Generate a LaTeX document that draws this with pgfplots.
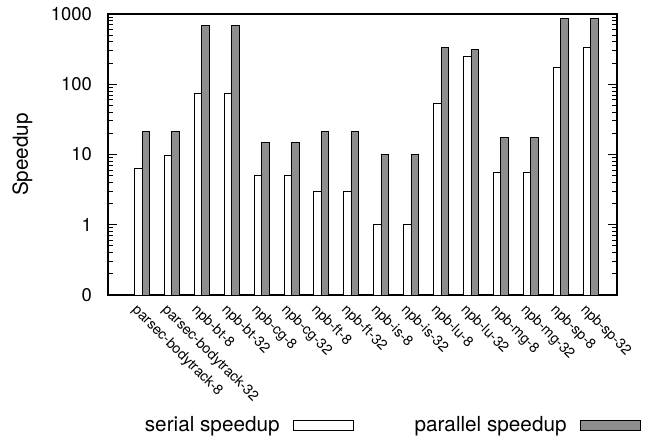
\documentclass[border=0pt]{standalone}
\usepackage{pgfplots}
\pgfplotsset{compat=1.18}
\usepackage{fontspec}
\setmainfont{TeX Gyre Heros}
\definecolor{bargray}{RGB}{142,142,142}
\begin{document}
\begin{tikzpicture}
\useasboundingbox (0,0) rectangle (648bp,438bp);
\begin{axis}[
  at={(108bp,143bp)}, anchor=south west,
  scale only axis, width=509bp, height=281bp,
  ymode=log, log origin=infty,
  ymin=0.1, ymax=1000,
  xmin=-1.137, xmax=15.88,
  ybar=0pt, bar width=7.5bp,
  xtick={0,...,15},
  xticklabels={parsec-bodytrack-8,parsec-bodytrack-32,npb-bt-8,npb-bt-32,npb-cg-8,npb-cg-32,npb-ft-8,npb-ft-32,npb-is-8,npb-is-32,npb-lu-8,npb-lu-32,npb-mg-8,npb-mg-32,npb-sp-8,npb-sp-32},
  major x tick style={draw=none},
  minor x tick num=0,
  ytick={0.1,1,10,100,1000},
  yticklabels={0,1,10,100,1000},
  minor ytick={0.2,0.3,0.4,0.5,0.6,0.7,0.8,0.9,2,3,4,5,6,7,8,9,20,30,40,50,60,70,80,90,200,300,400,500,600,700,800,900},
  major tick length=9bp, minor tick length=5bp,
  tick align=inside,
  axis line style={line width=1.2bp},
  every tick/.append style={black, line width=1bp},
  /pgf/number format/assume math mode=true,
  yticklabel style={font=\fontsize{18.5}{20}\selectfont, inner sep=0pt, xshift=-16bp, anchor=east},
  xticklabel style={font=\fontsize{14.3}{16}\selectfont, inner sep=0pt, xshift=-3bp, yshift=-8bp, rotate=-45, anchor=north west},
  ylabel={Speedup},
  ylabel style={font=\fontsize{20.8}{22}\selectfont, at={(axis description cs:-0.168,0.5)}, anchor=center},
  legend plot pos=right,
  legend image code/.code={\draw[#1, line width=1bp] (0bp,-5bp) rectangle (60bp,5bp);},
  legend style={draw=none, fill=none, at={(axis description cs:0.0662,-0.5)}, anchor=south west,
    legend columns=2, font=\fontsize{20.8}{22}\selectfont, nodes={inner sep=0pt},
    /tikz/every odd column/.append style={column sep=13.3bp},
    /tikz/every even column/.append style={column sep=60.7bp}},
]
\addplot[draw=black, fill=white, line width=1bp] coordinates {(0,6.3) (1,9.8) (2,73) (3,73) (4,5.0) (5,5.0) (6,3.0) (7,3.0) (8,1.0) (9,1.0) (10,52.4) (11,247) (12,5.63) (13,5.5) (14,176) (15,329)};
\addlegendentry{serial speedup}
\addplot[draw=black, fill=bargray, line width=1bp] coordinates {(0,21.1) (1,21.1) (2,677) (3,677) (4,14.9) (5,14.9) (6,21.1) (7,21.1) (8,10) (9,10) (10,335) (11,308) (12,17.2) (13,17.2) (14,851) (15,851)};
\addlegendentry{parallel speedup}
\end{axis}
\end{tikzpicture}
\end{document}
